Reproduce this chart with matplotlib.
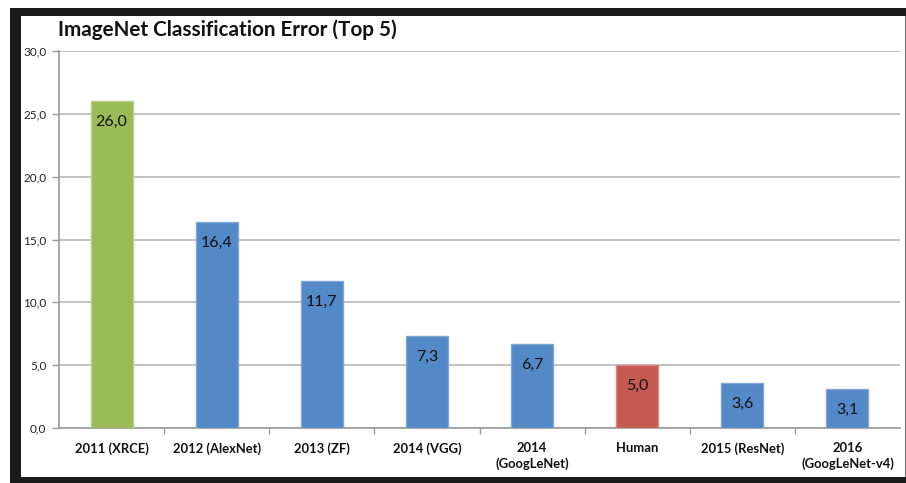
import matplotlib
matplotlib.use("Agg")
import matplotlib.pyplot as plt
from matplotlib.patches import Rectangle
from matplotlib.ticker import FixedLocator
import numpy as np

categories = ["2011 (XRCE)", "2012 (AlexNet)", "2013 (ZF)", "2014 (VGG)",
              "2014\n(GoogLeNet)", "Human", "2015 (ResNet)", "2016\n(GoogLeNet-v4)"]
values = [26.0, 16.4, 11.7, 7.3, 6.7, 5.0, 3.6, 3.1]
colors = ["#9BBB59", "#5289C6", "#5289C6", "#5289C6", "#5289C6", "#C55A52", "#5289C6", "#5289C6"]
edge_colors = ["#B5CF83", "#80A7D6", "#80A7D6", "#80A7D6", "#80A7D6", "#D8857F", "#80A7D6", "#80A7D6"]
y_ticks = [0, 5, 10, 15, 20, 25, 30]
title = "ImageNet Classification Error (Top 5)"

W, H = 906, 483
fig = plt.figure(figsize=(W / 100, H / 100), dpi=100)
fig.patch.set_facecolor("white")

def px(x0, y0, x1, y1):
    return (x0 / W, 1 - y1 / H, (x1 - x0) / W, (y1 - y0) / H)

# black frame and white chart area
b = px(10, 8, 906, 483)
fig.patches.append(Rectangle(b[:2], b[2], b[3], transform=fig.transFigure, facecolor="#1b1b1b", edgecolor="none", zorder=-3))
w = px(21, 16, 906, 477)
fig.patches.append(Rectangle(w[:2], w[2], w[3], transform=fig.transFigure, facecolor="white", edgecolor="none", zorder=-2))
g = px(904.5, 16, 906, 477)
fig.patches.append(Rectangle(g[:2], g[2], g[3], transform=fig.transFigure, facecolor="#6e6e6e", edgecolor="none", zorder=-1))

ax = fig.add_axes(px(59, 51, 900, 428))
ax.set_zorder(2)
ax.set_facecolor("none")
x = np.arange(len(categories))
bars = ax.bar(x, values, width=0.4, color=colors, edgecolor=edge_colors, linewidth=1.0, zorder=3)

for xi, v in zip(x, values):
    ax.annotate(f"{v:.1f}".replace(".", ","), xy=(xi, v), xytext=(0, -21),
                textcoords="offset pixels", ha="center", va="center",
                fontsize=11.5, family="Lato", color="#111111", zorder=4)

ax.set_xlim(-0.5, len(categories) - 0.5)
ax.set_ylim(0, 30)
ax.set_yticks(y_ticks)
ax.set_yticklabels([f"{t:.1f}".replace(".", ",") for t in y_ticks], fontsize=8.5, family="Lato", color="#222222")
ax.yaxis.grid(True, color="#bdbdbd", linewidth=1.3, zorder=0)
ax.set_axisbelow(True)

ax.set_xticks(x)
ax.set_xticklabels(categories, fontsize=9.4, family="Lato", fontweight="bold", color="#111111", linespacing=1.35)
ax.xaxis.set_minor_locator(FixedLocator(np.arange(0.5, len(categories) - 0.5, 1.0)))
ax.tick_params(axis="x", which="major", length=0, pad=10)
ax.tick_params(axis="x", which="minor", length=4, color="#9a9a9a", width=1)
ax.tick_params(axis="y", length=5, color="#9a9a9a", width=1, pad=4)

for s in ["top", "right"]:
    ax.spines[s].set_visible(False)
ax.spines["left"].set_color("#9a9a9a")
ax.spines["bottom"].set_color("#9a9a9a")
ax.spines["left"].set_linewidth(1.2)
ax.spines["bottom"].set_linewidth(1.2)

fig.text(58 / W, 1 - 30 / H, title, fontsize=14.9, family="Lato", fontweight="bold",
         color="#111111", ha="left", va="center", zorder=3)

fig.savefig("out.png", dpi=100, facecolor="white")
